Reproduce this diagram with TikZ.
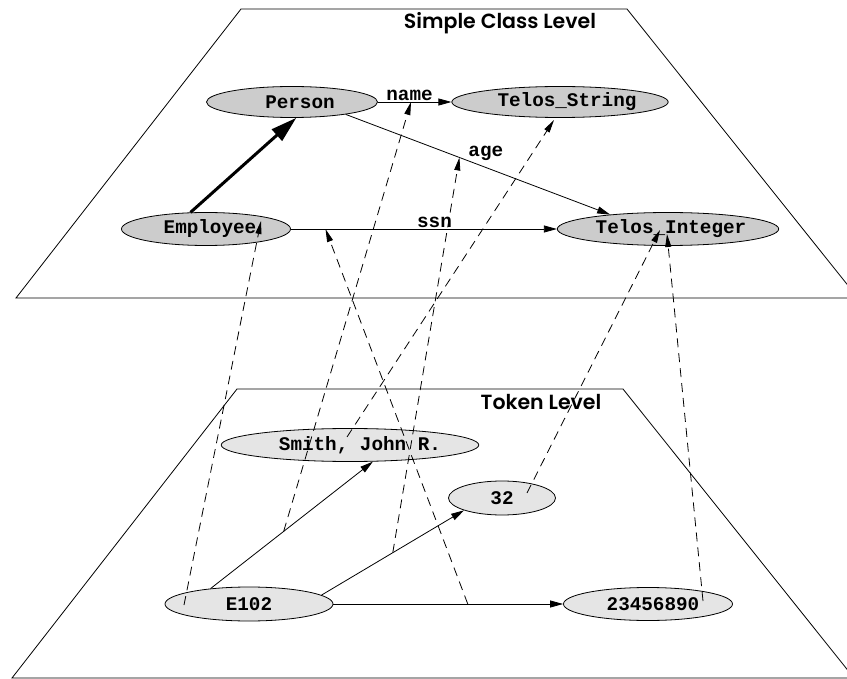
\documentclass[tikz,border=0pt]{standalone}
\usepackage{fontspec}
\setmonofont{Liberation Mono}
\newfontfamily\levelfont{Poppins}[UprightFont=* SemiBold]
\usetikzlibrary{arrows.meta,shapes.geometric}

\tikzset{
  obj/.style={ellipse, draw, line width=0.8pt, inner sep=0pt,
    font=\ttfamily\bfseries\fontsize{19.3}{22}\selectfont},
  clsobj/.style={obj, fill=black!20},
  tokobj/.style={obj, fill=black!10},
  link/.style={line width=0.8pt, -{Triangle[length=13pt,width=7pt]}},
  isa/.style={line width=3pt, -{Triangle[length=26pt,width=15pt]}},
  inst/.style={line width=0.8pt, dash pattern=on 9pt off 6pt,
    -{Triangle[length=13pt,width=6pt]}},
  lbl/.style={font=\ttfamily\bfseries\fontsize{19.3}{22}\selectfont, inner sep=1pt},
  level/.style={font=\levelfont\fontsize{20.5}{24}\selectfont},
  plane/.style={line width=0.8pt},
}

\begin{document}
\begin{tikzpicture}[x=1pt,y=-1pt]
\useasboundingbox (0,0) rectangle (847,679);

% the two level planes
\draw[plane] (16,298) -- (241,9) -- (627,9) -- (858,298) -- cycle;
\draw[plane] (12,678) -- (237,389) -- (623,389) -- (854,678) -- cycle;
\node[level] (clslevel) at (500,23) {Simple Class Level};
\node[level] (toklevel) at (541,402) {Token Level};

% class level objects
\node[clsobj, minimum width=171pt, minimum height=31pt] (person)   at (292,102) {\hspace*{16pt}Person};
\node[clsobj, minimum width=176pt, minimum height=31pt] (tstring)  at (560,102) {\hspace*{14pt}Telos\_String};
\node[clsobj, minimum width=169pt, minimum height=33pt] (employee) at (206,229) {\hspace*{8pt}Employee};
\node[clsobj, minimum width=170pt, minimum height=33pt] (tint)     at (668,229) {\hspace*{6pt}Telos\_Integer};

% token level objects
\node[tokobj, minimum width=216pt, minimum height=33pt] (smith) at (350,445) {\hspace*{20pt}Smith, John R.};
\node[tokobj, minimum width=107pt, minimum height=34pt] (n32)   at (502,498) {32};
\node[tokobj, minimum width=168pt, minimum height=34pt] (e102)  at (249,604) {E102};
\node[tokobj, minimum width=169pt, minimum height=33pt] (num)   at (648,604) {\hspace*{10pt}23456890};

% class level links
\draw[isa] (employee.133) -- (person.-75);
\draw[link] (person.east) -- coordinate[pos=0.45] (nameCls)
  node[lbl, pos=0.43, above] {name} (tstring.west);
\draw[link] (person.-13) -- coordinate[pos=0.43] (ageCls)
  node[lbl, pos=0.53, above, yshift=6pt] {age} (tint.166);
\draw[link] (employee.east) -- coordinate[pos=0.13] (ssnCls)
  node[lbl, pos=0.54, above] {ssn} (tint.west);

% token level links
\draw[link] (e102.158) -- coordinate[pos=0.45] (nameTok) (smith.-36);
\draw[link] (e102.7) -- coordinate[pos=0.5] (ageTok) (n32.198);
\draw[link] (e102.east) -- coordinate[pos=0.585] (ssnTok) (num.west);

% instance-of links from tokens to classes
\coordinate (e102in)  at (184,605);
\coordinate (emplin)  at (261,221);
\coordinate (smithin) at (347,437);
\coordinate (tstrin)  at (554,120);
\coordinate (n32in)   at (527,493);
\coordinate (tintinA) at (660,230);
\coordinate (numin)   at (703,601);
\coordinate (tintinB) at (667,234);

\draw[inst] (e102in) -- (emplin);
\draw[inst] (nameTok) -- (nameCls);
\draw[inst] (smithin) -- (tstrin);
\draw[inst] (ageTok) -- (ageCls);
\draw[inst] (ssnTok) -- (ssnCls);
\draw[inst] (n32in) -- (tintinA);
\draw[inst] (numin) -- (tintinB);
\end{tikzpicture}
\end{document}
